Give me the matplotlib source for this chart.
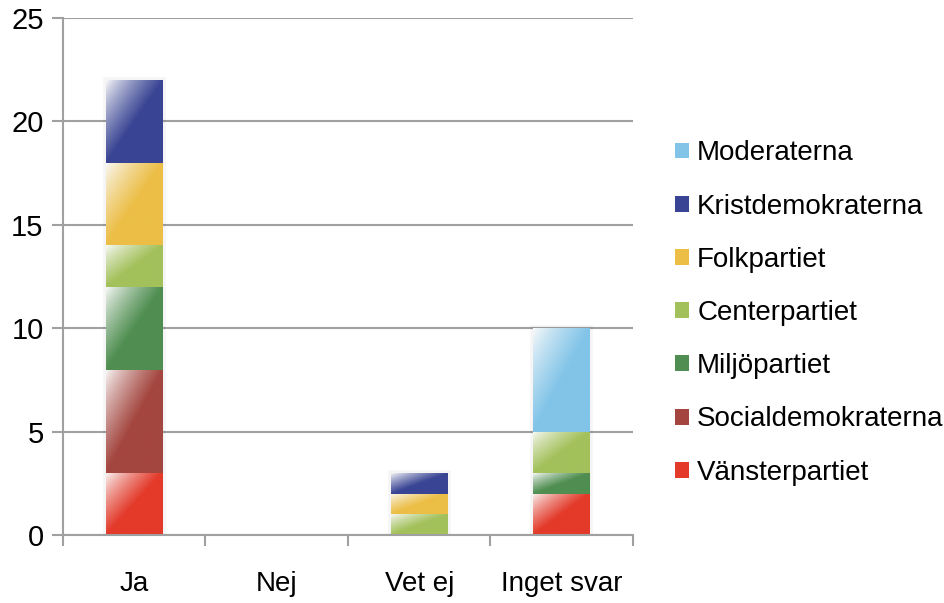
import numpy as np
import matplotlib
matplotlib.use("Agg")
import matplotlib.pyplot as plt
from matplotlib.colors import to_rgb

plt.rcParams['font.family'] = ['Liberation Sans', 'DejaVu Sans']

categories = ["Ja", "Nej", "Vet ej", "Inget svar"]
parties = ["Vänsterpartiet", "Socialdemokraterna", "Miljöpartiet", "Centerpartiet",
           "Folkpartiet", "Kristdemokraterna", "Moderaterna"]
vansterpartiet = [3, 0, 0, 2]
socialdemokraterna = [5, 0, 0, 0]
miljopartiet = [4, 0, 0, 1]
centerpartiet = [2, 0, 1, 2]
folkpartiet = [4, 0, 1, 0]
kristdemokraterna = [4, 0, 1, 0]
moderaterna = [0, 0, 0, 5]
series = [vansterpartiet, socialdemokraterna, miljopartiet, centerpartiet,
          folkpartiet, kristdemokraterna, moderaterna]
colors = ["#E33A2A", "#A4463F", "#4F8E50", "#A3C15B", "#ECBE46", "#394594", "#81C4E8"]
yticks = [0, 5, 10, 15, 20, 25]

fig = plt.figure(figsize=(9.45, 6.03), dpi=100)
ax = fig.add_axes([63/945, 1-535/603, (633-63)/945, (535-18)/603])

x = np.arange(len(categories))
width = 0.4
bottom = np.zeros(len(categories))

# soft shadow behind stacks (only for non-empty stacks)
totals = np.sum(np.array(series), axis=0)
mask = totals > 0
ax.bar(x[mask], totals[mask], width, color='none', edgecolor='#000000', alpha=0.04,
       linewidth=4, zorder=1.5)

handles = []
for vals, col, name in zip(series, colors, parties):
    bars = ax.bar(x, vals, width, bottom=bottom, color=col, label=name,
                  linewidth=0, zorder=2)
    handles.append(bars)
    c = np.array(to_rgb(col))
    for p, v in zip(bars.patches, vals):
        if v <= 0:
            continue
        h = 60
        w = 60
        u = np.linspace(0, 1, w)[None, :]
        t = np.linspace(0, 1, h)[:, None]
        d = (u + t) / 2.0
        s = np.clip(d / 0.5, 0, 1)
        s = s ** 0.8
        img = (1 - s[..., None]) * np.ones(3) * 0.98 + s[..., None] * c
        im = ax.imshow(img, extent=[p.get_x(), p.get_x() + p.get_width(),
                                    p.get_y(), p.get_y() + p.get_height()],
                       origin='upper', aspect='auto', interpolation='bilinear',
                       zorder=2.1)
        im.set_clip_path(p)
    bottom = bottom + np.array(vals)

ax.set_xlim(-0.5, len(categories) - 0.5)
ax.set_ylim(0, 25)
ax.set_yticks(yticks)
ax.set_yticklabels([str(t) for t in yticks], fontsize=21)
ax.set_xticks(x)
ax.set_xticklabels(categories, fontsize=20)
ax.set_xticks(np.arange(len(categories) + 1) - 0.5, minor=True)
ax.tick_params(axis='x', which='major', length=0, pad=26)
ax.tick_params(axis='x', which='minor', length=8, width=1.5, color='#A0A0A0')
ax.tick_params(axis='y', length=8, width=1.5, color='#A0A0A0', pad=6)

ax.grid(axis='y', color='#A0A0A0', linewidth=1.5, zorder=0)
ax.set_axisbelow(True)
for side in ['top', 'right']:
    ax.spines[side].set_visible(False)
for side in ['left', 'bottom']:
    ax.spines[side].set_color('#A0A0A0')
    ax.spines[side].set_linewidth(1.5)

leg = fig.legend(handles[::-1], parties[::-1], loc='center left',
                 bbox_to_anchor=(675/945, 1-313/603), frameon=False,
                 fontsize=20, handlelength=0.5, handleheight=0.5,
                 handletextpad=0.3, labelspacing=0.98, borderpad=0,
                 borderaxespad=0)

fig.savefig("out.png", dpi=100)
